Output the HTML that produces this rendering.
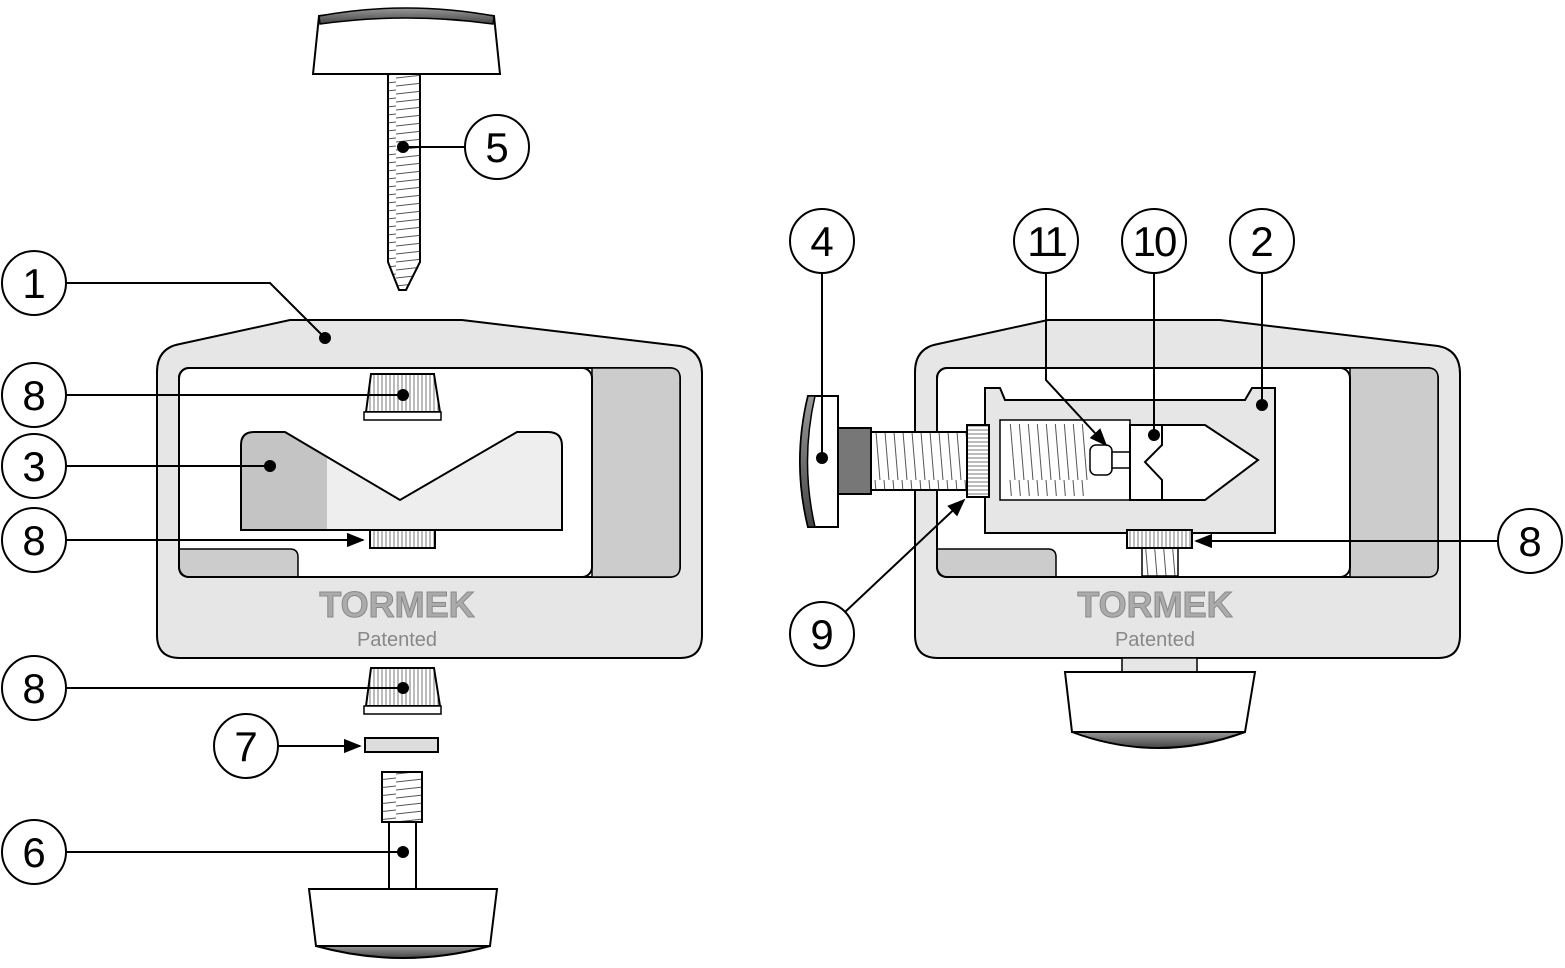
<!DOCTYPE html>
<html><head><meta charset="utf-8"><style>
html,body{margin:0;padding:0;background:#fff;}
svg{display:block;}
text{font-family:"Liberation Sans",sans-serif;}
</style></head><body>
<svg width="1565" height="968" viewBox="0 0 1565 968" xmlns="http://www.w3.org/2000/svg">
<defs>
<pattern id="thH" width="36" height="8" patternUnits="userSpaceOnUse"><rect width="36" height="8" fill="#fff"/><path d="M0,6 L36,2" stroke="#555" stroke-width="1"/></pattern>
<pattern id="thV" width="9" height="60" patternUnits="userSpaceOnUse"><rect width="9" height="60" fill="#fff"/><path d="M2,0 L7,60" stroke="#555" stroke-width="1"/></pattern>
<pattern id="knurl" width="4" height="10" patternUnits="userSpaceOnUse"><rect width="4" height="10" fill="#fff"/><path d="M2,0 V10" stroke="#555" stroke-width="0.8"/></pattern>
<pattern id="knurlH" width="10" height="4" patternUnits="userSpaceOnUse"><rect width="10" height="4" fill="#fff"/><path d="M0,2 H10" stroke="#555" stroke-width="0.8"/></pattern>
<linearGradient id="dk" x1="0" y1="0" x2="0" y2="1"><stop offset="0" stop-color="#999"/><stop offset="1" stop-color="#444"/></linearGradient>
<marker id="ar" viewBox="0 0 10 10" refX="9" refY="5" markerWidth="9" markerHeight="9" orient="auto"><path d="M0,1 L10,5 L0,9 Z" fill="#000"/></marker>
</defs>
<g stroke="#000" stroke-width="2">
<path d="M157,372 Q157,348 180,344 L290,320 L462,320 L680,346 Q702,350 702,374 L702,635 Q702,658 680,658 L180,658 Q157,658 157,635 Z" fill="#e6e6e6"/>
<rect x="179" y="368" width="501" height="209" rx="10" fill="#fff"/>
<path d="M592,368 L670,368 Q680,368 680,378 L680,567 Q680,577 670,577 L592,577 Z" fill="#ccc" stroke-width="1.5"/>
<path d="M179,549 L290,549 Q298,549 298,557 L298,577 L189,577 Q179,577 179,567 Z" fill="#ccc" stroke-width="1.5"/>
<rect x="179" y="368" width="413" height="209" rx="10" fill="none"/>
<path d="M241,445 Q241,432 254,432 L285,432 L327,457 L327,530 L241,530 Z" fill="#c4c4c4" stroke="none"/>
<path d="M327,457 L400,500 L517,432 L548,432 Q562,432 562,446 L562,530 L327,530 Z" fill="#eee" stroke="none"/>
<path d="M241,445 Q241,432 254,432 L285,432 L400,500 L517,432 L548,432 Q562,432 562,446 L562,530 L241,530 Z" fill="none"/>
<path d="M371,374 L434,374 L440,412 L366,412 Z" fill="url(#knurl)"/>
<rect x="364" y="412" width="77" height="8" fill="#fff" stroke-width="1.5"/>
<rect x="370" y="530" width="65" height="18" fill="url(#knurl)"/>
<path d="M388,70 L420,70 L420,262 L406,290 L399,290 L388,262 Z" fill="url(#thH)"/>
<path d="M319,16 Q406,4 494,16 L500,74 L313,74 Z" fill="#fff"/>
<path d="M319,16 Q406,0 494,16 L493,24 Q406,12 320,24 Z" fill="url(#dk)" stroke-width="1.5"/>
<path d="M371,668 L434,668 L440,706 L366,706 Z" fill="url(#knurl)"/>
<rect x="364" y="706" width="77" height="8" fill="#fff" stroke-width="1.5"/>
<rect x="365" y="738" width="73" height="14" fill="#ddd"/>
<rect x="382" y="772" width="40" height="50" fill="url(#thH)"/>
<rect x="389" y="822" width="27" height="67" fill="#fff"/>
<path d="M316,946 Q403,970 490,946 Z" fill="url(#dk)"/>
<path d="M309,889 L497,889 L490,946 L316,946 Z" fill="#fff"/>

<path d="M915,372 Q915,348 938,344 L1048,320 L1220,320 L1438,346 Q1460,350 1460,374 L1460,635 Q1460,658 1438,658 L938,658 Q915,658 915,635 Z" fill="#e6e6e6"/>
<rect x="937" y="368" width="501" height="209" rx="10" fill="#fff"/>
<path d="M1350,368 L1428,368 Q1438,368 1438,378 L1438,567 Q1438,577 1428,577 L1350,577 Z" fill="#ccc" stroke-width="1.5"/>
<path d="M937,549 L1048,549 Q1056,549 1056,557 L1056,577 L947,577 Q937,577 937,567 Z" fill="#ccc" stroke-width="1.5"/>
<rect x="937" y="368" width="413" height="209" rx="10" fill="none"/>
<rect x="1122" y="658" width="75" height="14" fill="#e6e6e6" stroke-width="1.5"/>
<path d="M1065,672 L1255,672 L1245,732 L1072,732 Z" fill="#fff"/>
<path d="M1072,732 Q1158,764 1245,732 Z" fill="url(#dk)"/>
<rect x="1142" y="548" width="36" height="28" fill="url(#thV)" stroke-width="1.5"/>
<path d="M985,388 L1000,388 L1005,400 L1245,400 L1252,388 L1275,388 L1275,533 L985,533 Z" fill="#e6e6e6"/>
<rect x="1000" y="420" width="130" height="80" fill="#fff" stroke-width="1.5"/>
<rect x="1008" y="424" width="80" height="72" fill="url(#thV)" stroke="none"/>
<rect x="1090" y="445" width="22" height="30" rx="6" fill="#fff" stroke-width="1.5"/>
<rect x="1112" y="452" width="20" height="16" fill="#fff" stroke-width="1.5"/>
<path d="M1130,425 L1162,425 L1162,500 L1130,500 Z" fill="#fff"/>
<path d="M1162,425 L1205,425 L1258,460 L1205,500 L1162,500 L1162,480 L1145,462 L1162,445 Z" fill="#fff"/>
<rect x="1127" y="530" width="65" height="18" fill="url(#knurl)"/>
<rect x="870" y="432" width="97" height="58" fill="url(#thV)"/>
<rect x="967" y="425" width="22" height="72" fill="url(#knurlH)"/>
<rect x="838" y="428" width="33" height="66" fill="#777"/>
<path d="M808,396 L838,396 L838,527 L808,527 Q792,462 808,396 Z" fill="#fff"/>
<path d="M808,396 Q792,462 808,527 L815,527 Q800,462 815,396 Z" fill="url(#dk)" stroke-width="1.5"/>
</g>
<g font-weight="bold" font-size="36" fill="#ababab" stroke="#8a8a8a" stroke-width="1" text-anchor="middle">
<text x="397" y="617">TORMEK</text><text x="1155" y="617">TORMEK</text>
</g>
<g font-size="20" fill="#888" text-anchor="middle">
<text x="397" y="646">Patented</text><text x="1155" y="646">Patented</text>
</g>
<g stroke="#000" stroke-width="2" fill="none">
<path d="M66,283 L270,283 L325,338"/>
<path d="M66,395 L403,395"/>
<path d="M66,466 L270,466"/>
<path d="M66,540 L363,540" marker-end="url(#ar)"/>
<path d="M66,688 L403,688"/>
<path d="M278,746 L360,746" marker-end="url(#ar)"/>
<path d="M66,852 L403,852"/>
<path d="M465,147 L403,147"/>
<path d="M822,273 L822,458"/>
<path d="M1046,273 L1046,380 L1106,445" marker-end="url(#ar)"/>
<path d="M1154,273 L1154,435"/>
<path d="M1262,273 L1262,405"/>
<path d="M1498,541 L1196,541" marker-end="url(#ar)"/>
<path d="M845,612 L964,500" marker-end="url(#ar)"/>
</g>
<g fill="#000">
<circle cx="325" cy="338" r="6"/><circle cx="403" cy="395" r="6"/><circle cx="270" cy="466" r="6"/>
<circle cx="403" cy="688" r="6"/><circle cx="403" cy="852" r="6"/><circle cx="403" cy="147" r="6"/>
<circle cx="822" cy="458" r="6"/><circle cx="1154" cy="435" r="6"/><circle cx="1262" cy="405" r="6"/>
</g>
<g stroke="#000" stroke-width="2" fill="#fff">
<circle cx="34" cy="283" r="32"/><circle cx="34" cy="395" r="32"/><circle cx="34" cy="466" r="32"/>
<circle cx="34" cy="540" r="32"/><circle cx="34" cy="688" r="32"/><circle cx="246" cy="746" r="32"/>
<circle cx="34" cy="852" r="32"/><circle cx="497" cy="147" r="32"/>
<circle cx="822" cy="241" r="32"/><circle cx="1046" cy="241" r="32"/><circle cx="1154" cy="241" r="32"/>
<circle cx="1262" cy="241" r="32"/><circle cx="1530" cy="541" r="32"/><circle cx="822" cy="634" r="32"/>
</g>
<g font-size="42" text-anchor="middle" fill="#000">
<text x="34" y="298">1</text><text x="34" y="410">8</text><text x="34" y="481">3</text>
<text x="34" y="555">8</text><text x="34" y="703">8</text><text x="246" y="761">7</text>
<text x="34" y="867">6</text><text x="497" y="162">5</text>
<text x="822" y="256">4</text><text x="1046" y="256" letter-spacing="-3">11</text><text x="1154" y="256" letter-spacing="-2">10</text>
<text x="1262" y="256">2</text><text x="1530" y="556">8</text><text x="822" y="649">9</text>
</g>
</svg>
</body></html>
